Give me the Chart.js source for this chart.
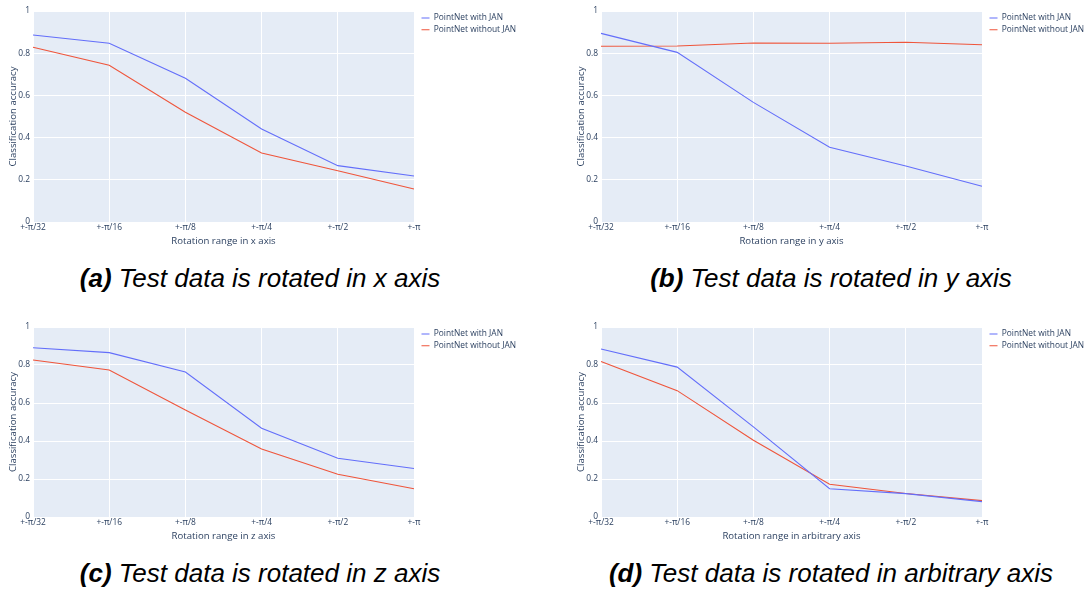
<!DOCTYPE html>
<html><head><meta charset="utf-8">
<script src="https://cdn.jsdelivr.net/npm/chart.js@4.4.1/dist/chart.umd.min.js"></script>
<style>
html,body{margin:0;padding:0;background:#fff;width:1088px;height:590px;overflow:hidden;position:relative;}
.panel{position:absolute;}
.cap{position:absolute;width:544px;text-align:center;font-family:"Liberation Sans",Arial,sans-serif;font-style:italic;font-size:26px;line-height:28px;color:#000;white-space:nowrap;}
.cap b{font-weight:bold;}
</style></head><body>
<div class="panel" style="left:0;top:0;"><canvas id="ca" width="544" height="250"></canvas></div>
<div class="panel" style="left:568px;top:0;"><canvas id="cb" width="544" height="250"></canvas></div>
<div class="panel" style="left:0;top:316px;"><canvas id="cc" width="544" height="229"></canvas></div>
<div class="panel" style="left:568px;top:316px;"><canvas id="cd" width="544" height="229"></canvas></div>
<div class="cap" style="left:-12px;top:264px;"><b>(a)</b> Test data is rotated in x axis</div>
<div class="cap" style="left:559px;top:264px;"><b>(b)</b> Test data is rotated in y axis</div>
<div class="cap" style="left:-12px;top:559px;"><b>(c)</b> Test data is rotated in z axis</div>
<div class="cap" style="left:559px;top:559px;"><b>(d)</b> Test data is rotated in arbitrary axis</div>
<script>
const categories = ['+-π/32', '+-π/16', '+-π/8', '+-π/4', '+-π/2', '+-π'];
const seriesNames = ['PointNet with JAN', 'PointNet without JAN'];

const withJanX    = [0.886, 0.847, 0.681, 0.441, 0.267, 0.218];
const withoutJanX = [0.828, 0.743, 0.520, 0.327, 0.243, 0.156];

const withJanY    = [0.894, 0.804, 0.567, 0.354, 0.265, 0.169];
const withoutJanY = [0.833, 0.834, 0.848, 0.847, 0.852, 0.840];

const withJanZ    = [0.891, 0.865, 0.763, 0.467, 0.309, 0.255];
const withoutJanZ = [0.826, 0.774, 0.563, 0.358, 0.225, 0.149];

const withJanArb    = [0.884, 0.789, 0.474, 0.149, 0.123, 0.081];
const withoutJanArb = [0.819, 0.665, 0.404, 0.172, 0.124, 0.086];

const TXT = '#2a3f5f';
const FONT = '"Open Sans", "DejaVu Sans", sans-serif';
const LEG_FS = 8.4, LEG_PAD = 3.3;

const plotBg = {
  id: 'plotBg',
  beforeDraw(chart) {
    const {ctx, chartArea: a} = chart;
    ctx.save();
    ctx.fillStyle = '#E5ECF6';
    ctx.fillRect(a.left, a.top, a.right - a.left, a.bottom - a.top);
    ctx.restore();
  },
  afterLayout(chart) {
    const lg = chart.legend;
    if (!lg) return;
    const h = lg.height;
    lg.left = chart.chartArea.right + 7.5 - LEG_PAD;
    lg.width = 125;
    lg.right = lg.left + lg.width;
    lg.top = chart.chartArea.top + 7 - LEG_PAD - LEG_FS / 2;
    lg.bottom = lg.top + h;
  }
};

function makeChart(id, xTitle, withJan, withoutJan) {
  new Chart(document.getElementById(id), {
    type: 'line',
    data: {
      labels: categories,
      datasets: [
        {label: seriesNames[0], data: withJan, borderColor: '#636efa', backgroundColor: '#636efa',
         borderWidth: 1.1, pointRadius: 0, pointHoverRadius: 0, tension: 0, fill: false},
        {label: seriesNames[1], data: withoutJan, borderColor: '#EF553B', backgroundColor: '#EF553B',
         borderWidth: 1.1, pointRadius: 0, pointHoverRadius: 0, tension: 0, fill: false}
      ]
    },
    options: {
      responsive: false,
      animation: false,
      devicePixelRatio: 1,
      events: [],
      layout: {padding: {top: 11, right: 40, left: 0, bottom: 0}},
      plugins: {
        tooltip: {enabled: false},
        legend: {
          display: true,
          position: 'right',
          align: 'start',
          maxWidth: 90,
          labels: {
            usePointStyle: true,
            pointStyle: 'line',
            pointStyleWidth: 8,
            boxHeight: 8,
            padding: LEG_PAD,
            color: TXT,
            font: {family: FONT, size: LEG_FS}
          }
        }
      },
      scales: {
        x: {
          type: 'category',
          offset: false,
          grid: {color: '#ffffff', lineWidth: 1, drawTicks: false, offset: false},
          border: {display: false},
          ticks: {color: TXT, font: {family: FONT, size: 8.4}, padding: 1, maxRotation: 0, autoSkip: false},
          title: {display: true, text: xTitle, color: TXT, font: {family: FONT, size: 9.6}, padding: {top: 0, bottom: 3.2}},
          afterFit(s) { s.height = 28; }
        },
        y: {
          min: 0, max: 1,
          grid: {color: '#ffffff', lineWidth: 1, drawTicks: false},
          border: {display: false},
          ticks: {stepSize: 0.2, color: TXT, font: {family: FONT, size: 8.4}, padding: 3,
                  callback: v => String(Number(v.toFixed(2)))},
          title: {display: true, text: 'Classification accuracy', color: TXT, font: {family: FONT, size: 9.6}, padding: {top: 7.2, bottom: 0}},
          afterFit(s) { s.width = 33; }
        }
      }
    },
    plugins: [plotBg]
  });
}

makeChart('ca', 'Rotation range in x axis', withJanX, withoutJanX);
makeChart('cb', 'Rotation range in y axis', withJanY, withoutJanY);
makeChart('cc', 'Rotation range in z axis', withJanZ, withoutJanZ);
makeChart('cd', 'Rotation range in arbitrary axis', withJanArb, withoutJanArb);
</script>
</body></html>
